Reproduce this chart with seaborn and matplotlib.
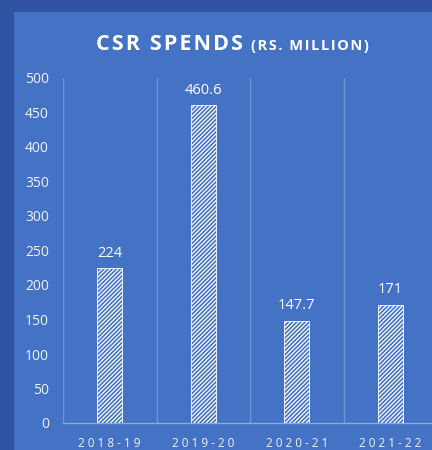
import matplotlib
matplotlib.use("Agg")
import matplotlib.pyplot as plt
import matplotlib.patches as mpatches
import seaborn as sns
import pandas as pd

years = ["2018-19", "2019-20", "2020-21", "2021-22"]
spends = [224, 460.6, 147.7, 171]
value_labels = ["224", "460.6", "147.7", "171"]
y_ticks = [0, 50, 100, 150, 200, 250, 300, 350, 400, 450, 500]

sns.set_theme(style="white")
plt.rcParams['font.family'] = ['Open Sans', 'DejaVu Sans']
plt.rcParams['hatch.color'] = 'white'
plt.rcParams['hatch.linewidth'] = 0.9

W, H = 432, 450
fig = plt.figure(figsize=(W / 100, H / 100), dpi=100)
outer = '#3153a3'
panel = '#4472c4'
fig.patch.set_facecolor(outer)
fig.add_artist(mpatches.Rectangle((14 / W, 0), 1, 1 - 12 / H, transform=fig.transFigure,
                                  facecolor=panel, edgecolor='none', zorder=0))

ax = fig.add_axes([63 / W, 27 / H, 374 / W, 345 / H])
ax.set_facecolor('none')

df = pd.DataFrame({"year": years, "spend": spends})
sns.barplot(data=df, x="year", y="spend", color=panel, width=0.27, ax=ax,
            edgecolor='white', linewidth=0.6, zorder=3)
for p in ax.patches:
    p.set_hatch('////////')
    p.set_facecolor(panel)

for i, (v, lab) in enumerate(zip(spends, value_labels)):
    ax.annotate(lab, (i, v), xytext=(0, 5.5), textcoords='offset points',
                ha='center', va='bottom', color='white', fontsize=10.5)

ax.set_xlim(-0.5, 3.5)
ax.set_ylim(0, 500)
ax.set_yticks(y_ticks)
ax.set_yticklabels([str(t) for t in y_ticks], color='#f2f2f2', fontsize=10)
ax.set_xticks(range(len(years)))
ax.set_xticklabels([" ".join(y) for y in years], color='#f2f2f2', fontsize=8.5)
ax.tick_params(axis='y', length=0, pad=10)
ax.tick_params(axis='x', length=0, pad=10)
ax.set_xlabel("")
ax.set_ylabel("")

for s in ['top', 'right', 'left']:
    ax.spines[s].set_visible(False)
ax.spines['bottom'].set_color('#8ea8dc')
ax.spines['bottom'].set_linewidth(1.0)

for xg in [-0.5, 0.5, 1.5, 2.5]:
    ax.axvline(xg, color='#7393d3', linewidth=1.0, zorder=1)

hs = "\u200a"
fig.text(243 / W, 1 - 50 / H, hs.join("CSR SPENDS"), ha='right', va='baseline',
         color='white', fontsize=15.5, fontweight='bold')
fig.text(251 / W, 1 - 50 / H, hs.join("(RS. MILLION)"), ha='left', va='baseline',
         color='white', fontsize=10.5, fontweight='bold')

fig.savefig("out.png", dpi=100, facecolor=fig.get_facecolor())
